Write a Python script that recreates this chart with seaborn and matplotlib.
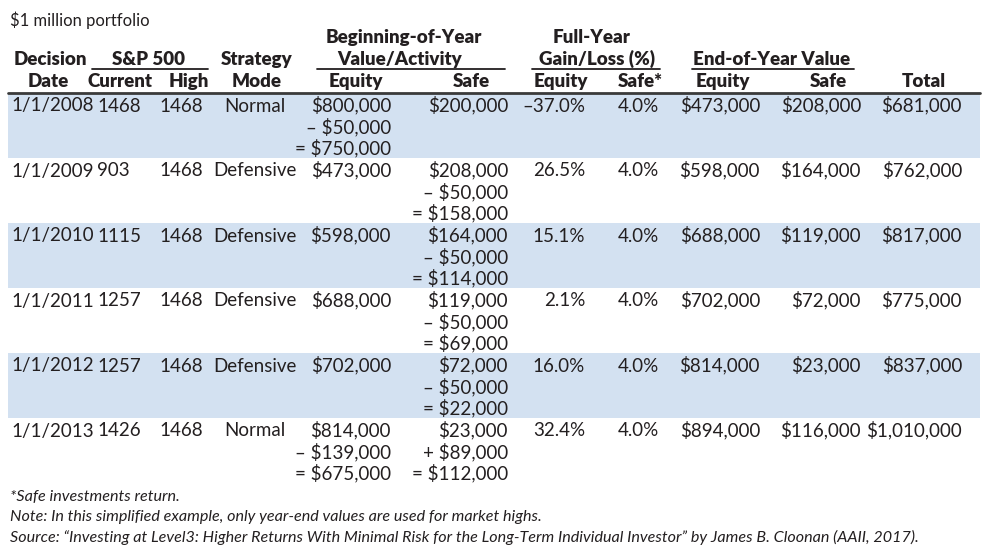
import matplotlib.pyplot as plt
import seaborn as sns

# ----- TABLE DATA -----
dates = ["1/1/2008", "1/1/2009", "1/1/2010", "1/1/2011", "1/1/2012", "1/1/2013"]
sp_current = [1468, 903, 1115, 1257, 1257, 1426]
sp_high = [1468, 1468, 1468, 1468, 1468, 1468]
modes = ["Normal", "Defensive", "Defensive", "Defensive", "Defensive", "Normal"]
boy_equity = [800000, 473000, 598000, 688000, 702000, 814000]
equity_moves = [-50000, 0, 0, 0, 0, -139000]
boy_safe = [200000, 208000, 164000, 119000, 72000, 23000]
safe_moves = [0, -50000, -50000, -50000, -50000, 89000]
gain_equity = [-37.0, 26.5, 15.1, 2.1, 16.0, 32.4]
gain_safe = [4.0, 4.0, 4.0, 4.0, 4.0, 4.0]
eoy_equity = [473000, 598000, 688000, 702000, 814000, 894000]
eoy_safe = [208000, 164000, 119000, 72000, 23000, 116000]
totals = [681000, 762000, 817000, 775000, 837000, 1010000]

title = "$1 million portfolio"
footnotes = [
    "*Safe investments return.",
    "Note: In this simplified example, only year-end values are used for market highs.",
    "Source: \u201cInvesting at Level3: Higher Returns With Minimal Risk for the "
    "Long-Term Individual Investor\u201d by James B. Cloonan (AAII, 2017).",
]


def money(v):
    return f"${v:,}"


def activity(start, move):
    # start value, then the move, then the result
    if move == 0:
        return [money(start)]
    sign = "\u2013" if move < 0 else "+"
    return [money(start), f"{sign} {money(abs(move))}", f"= {money(start + move)}"]


def pct(v):
    return f"{v:.1f}%".replace("-", "\u2013")


sns.set_theme(style="white")
plt.rcParams['font.family'] = ['Lato', 'DejaVu Sans']
ink = "#231f20"
band = "#d3e1f1"

fig = plt.figure(figsize=(9.85, 5.52), dpi=100)
ax = fig.add_axes([0, 0, 1, 1])
ax.set_xlim(0, 985)
ax.set_ylim(552, 0)
ax.axis("off")

# ----- ROW BANDS -----
top0, row_h = 93, 65
shaded = [i for i in range(len(dates)) if i % 2 == 0]
ax.barh([top0 + row_h * i + row_h / 2 for i in shaded], 972, left=8,
        height=row_h, color=band, linewidth=0)

# ----- HEADER -----
ax.text(10, 26, title, fontsize=12, color=ink, va="baseline", ha="left")
hdr = dict(fontsize=13.5, fontweight="heavy", color=ink, va="baseline", ha="center")
for txt, x in [("Beginning-of-Year", 404), ("Full-Year", 592)]:
    ax.text(x, 43, txt, **hdr)
for txt, x in [("Decision", 50), ("S&P 500", 148), ("Strategy", 257),
               ("Value/Activity", 400), ("Gain/Loss (%)", 597),
               ("End-of-Year Value", 772)]:
    ax.text(x, 65, txt, **hdr)
for txt, x in [("Date", 48), ("Current", 120), ("High", 189), ("Mode", 257),
               ("Equity", 356), ("Safe", 471), ("Equity", 561), ("Safe*", 640),
               ("Equity", 723), ("Safe", 828), ("Total", 924)]:
    ax.text(x, 87, txt, **hdr)
for x0, x1 in [(92, 208), (317, 505), (532, 660), (692, 854)]:
    ax.plot([x0, x1], [68.5, 68.5], color=ink, lw=1.3)
ax.plot([8, 980], [92.5, 92.5], color="#3a3a3a", lw=2)

# ----- BODY -----
cols = [(11, "left"), (97, "left"), (203, "right"), (255, "center"),
        (391, "right"), (508, "right"), (585, "right"), (659, "right"),
        (760, "right"), (861, "right"), (962, "right")]
for i in range(len(dates)):
    cells = [[dates[i]], [str(sp_current[i])], [str(sp_high[i])], [modes[i]],
             activity(boy_equity[i], equity_moves[i]),
             activity(boy_safe[i], safe_moves[i]),
             [pct(gain_equity[i])], [pct(gain_safe[i])],
             [money(eoy_equity[i])], [money(eoy_safe[i])], [money(totals[i])]]
    top = top0 + row_h * i
    for (x, ha), lines in zip(cols, cells):
        for k, line in enumerate(lines):
            ax.text(x, top + 18.5 + 21.5 * k, line, fontsize=13.5, color=ink,
                    ha=ha, va="baseline")

# ----- FOOTNOTES -----
for k, note in enumerate(footnotes):
    ax.text(10, 501 + 20.5 * k, note, fontsize=11.6, style="italic", color=ink,
            ha="left", va="baseline")

plt.savefig("out.png", dpi=100)
plt.close()
